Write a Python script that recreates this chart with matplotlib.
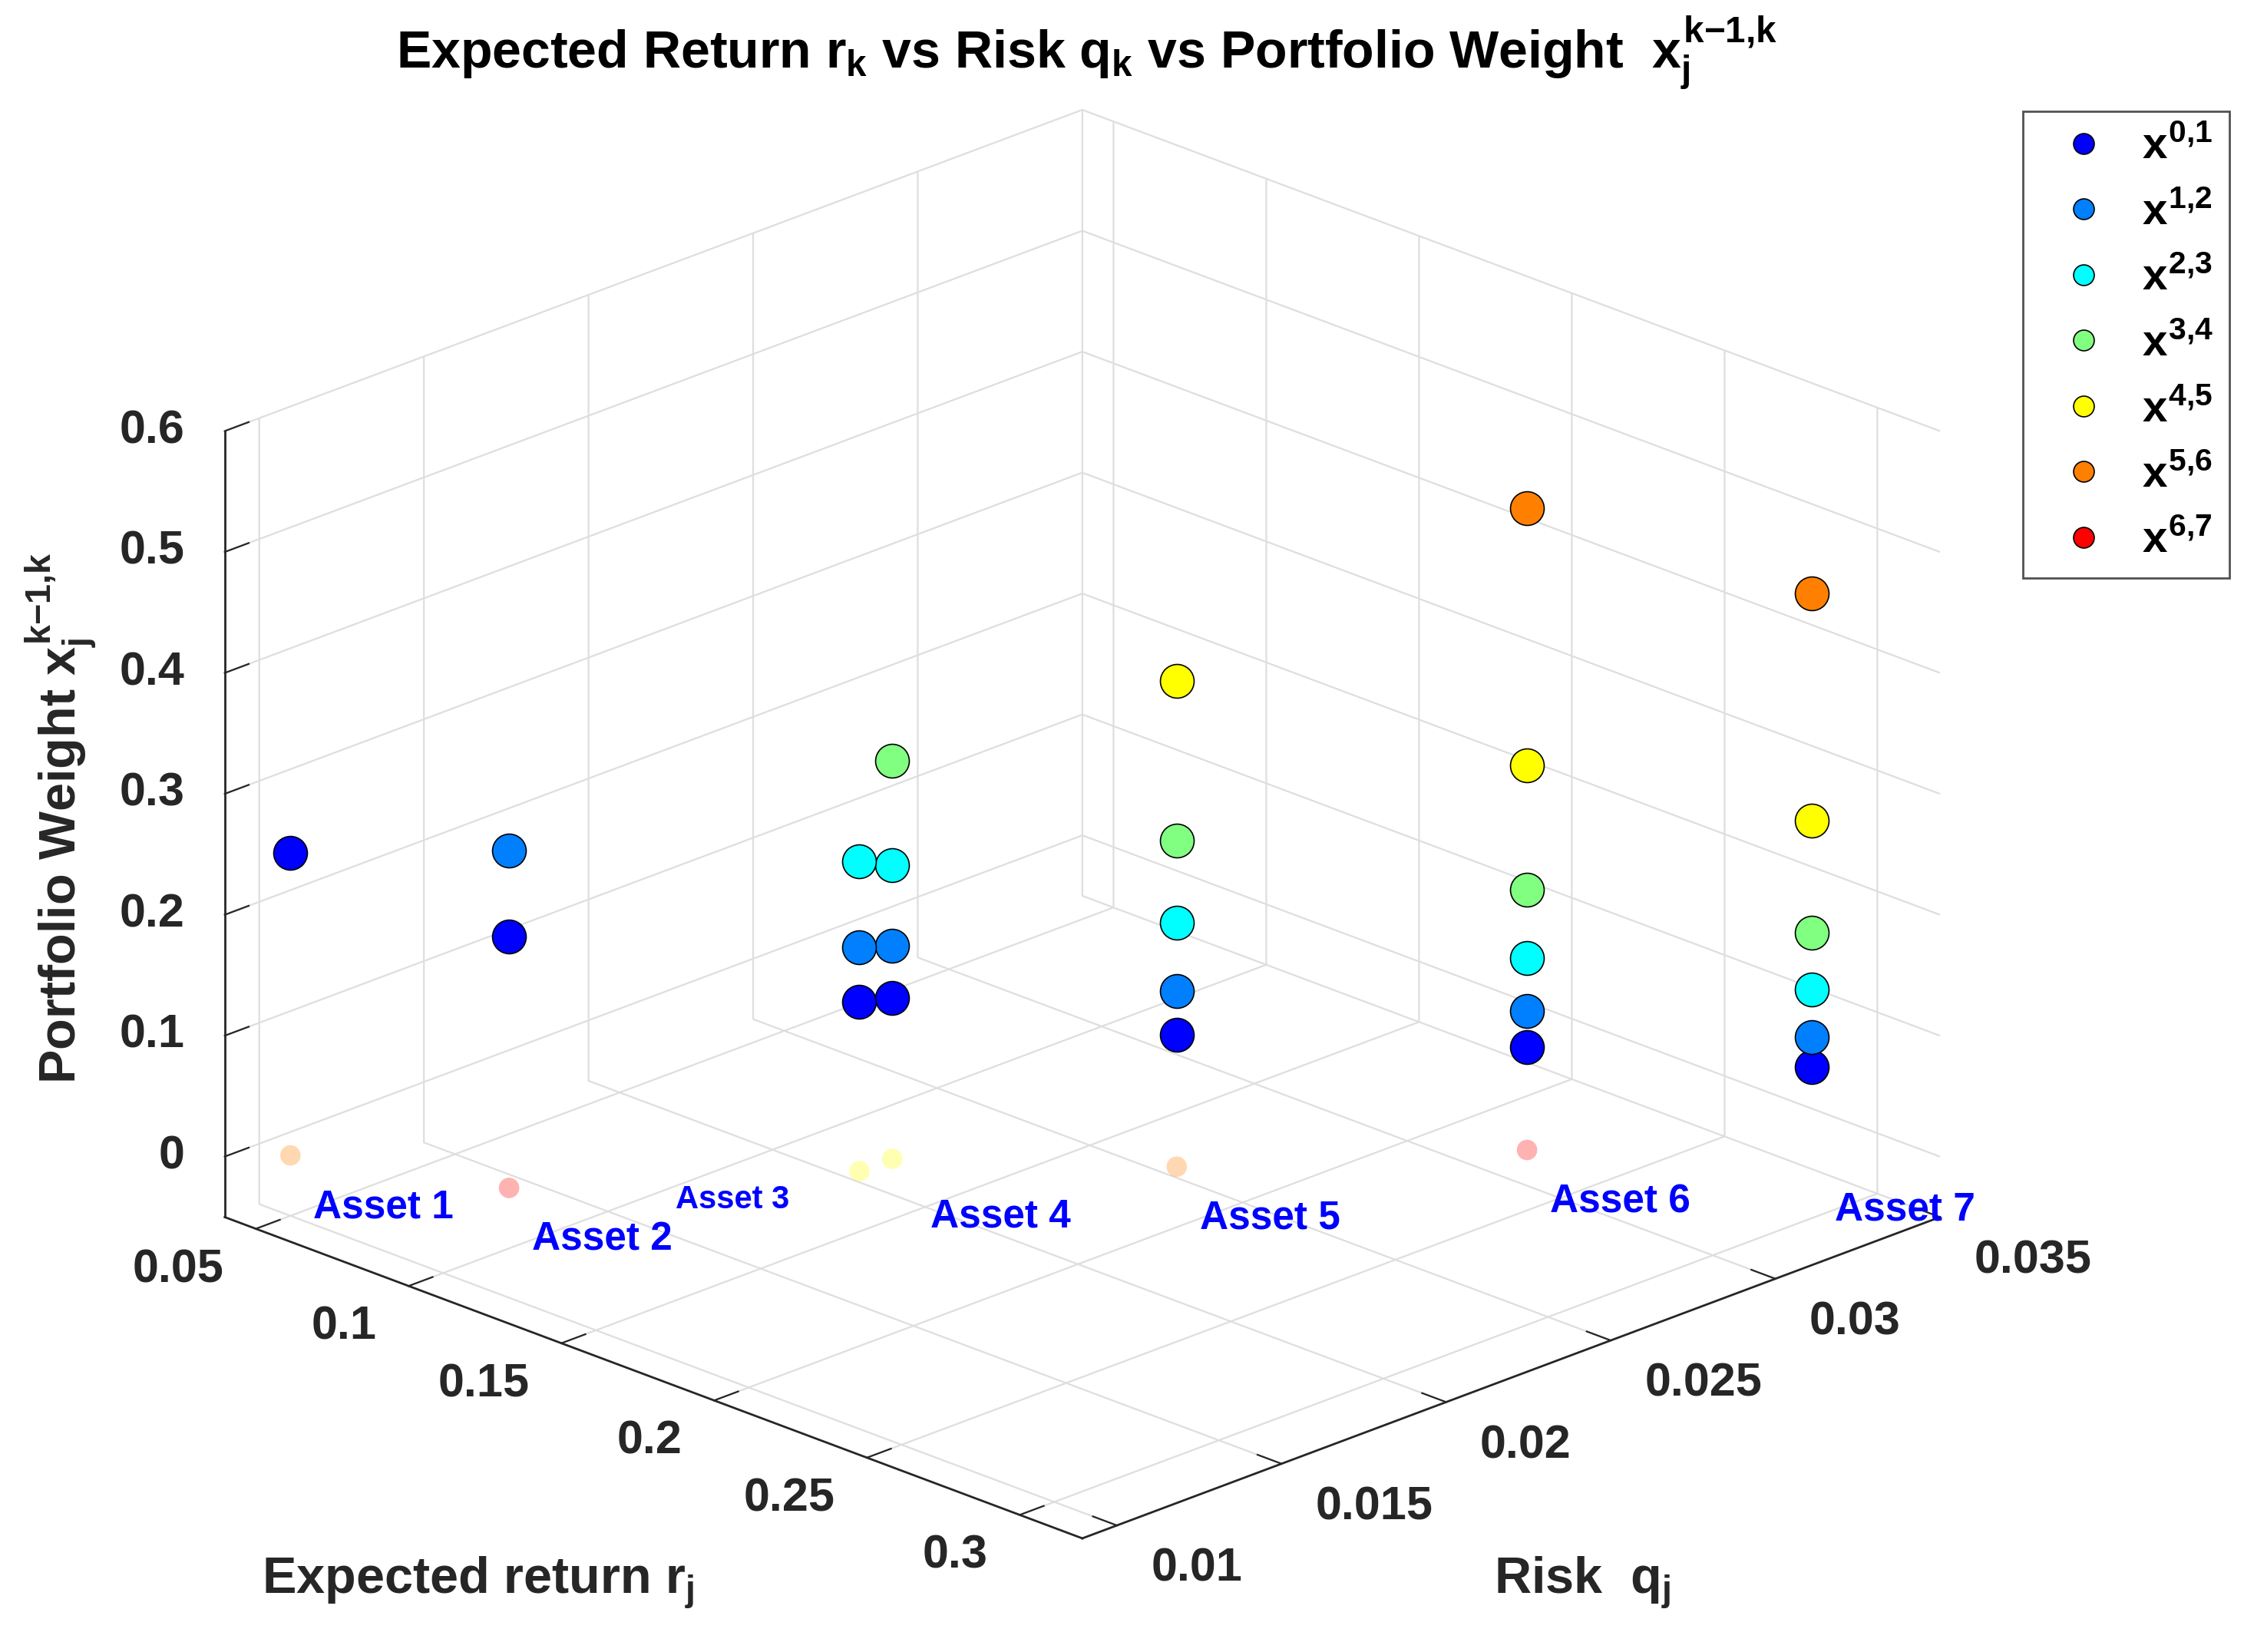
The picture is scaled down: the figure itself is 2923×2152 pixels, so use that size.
import numpy as np
import matplotlib
matplotlib.use('Agg')
import matplotlib.pyplot as plt
from matplotlib.lines import Line2D

plt.rcParams['font.family'] = ['Liberation Sans', 'DejaVu Sans']
plt.rcParams['font.weight'] = 'bold'
plt.rcParams['mathtext.fontset'] = 'custom'
plt.rcParams['mathtext.rm'] = 'Liberation Sans:bold'
plt.rcParams['mathtext.it'] = 'Liberation Sans:bold'
plt.rcParams['mathtext.bf'] = 'Liberation Sans:bold'
plt.rcParams['grid.color'] = '#dedede'
plt.rcParams['grid.linewidth'] = 0.8

# assets: expected return r_j and risk q_j
asset_names = ['Asset 1', 'Asset 2', 'Asset 3', 'Asset 4', 'Asset 5', 'Asset 6', 'Asset 7']
exp_return = np.array([0.05, 0.10, 0.15, 0.15, 0.20, 0.25, 0.30])
risk = np.array([0.010, 0.012, 0.018, 0.019, 0.023, 0.029, 0.033])

# portfolio weights x^{k-1,k} per iteration (0 = asset dropped)
w_01 = np.array([0.250, 0.208, 0.140, 0.133, 0.109, 0.085, 0.075])
w_12 = np.array([0.000, 0.279, 0.185, 0.176, 0.145, 0.115, 0.100])
w_23 = np.array([0.000, 0.000, 0.256, 0.243, 0.202, 0.159, 0.139])
w_34 = np.array([0.000, 0.000, 0.000, 0.329, 0.270, 0.215, 0.186])
w_45 = np.array([0.000, 0.000, 0.000, 0.000, 0.402, 0.318, 0.279])
w_56 = np.array([0.000, 0.000, 0.000, 0.000, 0.000, 0.531, 0.467])
w_67 = np.array([0.000, 0.000, 0.000, 0.000, 0.000, 0.000, 1.000])
weights = [w_01, w_12, w_23, w_34, w_45, w_56, w_67]
iter_tags = ['0{,}1', '1{,}2', '2{,}3', '3{,}4', '4{,}5', '5{,}6', '6{,}7']
iter_colors = ['#0000ff', '#0080ff', '#00ffff', '#80ff80', '#ffff00', '#ff8000', '#ff0000']

# faded zero-weight marker shown for assets 1-6 (iteration colour index)
zero_iter = [5, 6, 4, 4, 5, 6]

# label anchors for the asset names (on the floor of the box)
label_r = [0.05, 0.10, 0.106, 0.155, 0.20, 0.25, 0.30]
label_q = [0.0107, 0.0127, 0.0165, 0.0197, 0.0237, 0.0297, 0.0337]
label_size = [18.5, 18.5, 15, 18.5, 18.5, 18.5, 18.5]

xlim = (0.0398, 0.3205)
ylim = (0.00895, 0.035)
zlim = (-0.05, 0.6)

W, H = 2923, 2152
fig = plt.figure(figsize=(W / 200, H / 200), dpi=200)
ax = fig.add_axes([0.2, 0.2, 1500 / W, 1500 / H], projection='3d')
ax.set_proj_type('ortho')
ax.view_init(elev=22, azim=-45)
ax.set_box_aspect((1, 1, 0.699))
ax.set_xlim(*xlim)
ax.set_ylim(*ylim)
ax.set_zlim(*zlim)
ax.zaxis.set_ticks_position('lower')

for axis in (ax.xaxis, ax.yaxis, ax.zaxis):
    axis.set_pane_color((1, 1, 1, 0))
    axis.line.set_color('#262626')
    axis.line.set_linewidth(1.0)
    axis._axinfo['tick']['inward_factor'] = 0.0
    axis._axinfo['tick']['outward_factor'] = 0.35

ax.set_xticks([0.05, 0.1, 0.15, 0.2, 0.25, 0.3])
ax.set_xticklabels(['0.05', '0.1', '0.15', '0.2', '0.25', '0.3'])
ax.set_yticks([0.01, 0.015, 0.02, 0.025, 0.03, 0.035])
ax.set_yticklabels(['0.01', '0.015', '0.02', '0.025', '0.03', '0.035'])
ax.set_zticks([0, 0.1, 0.2, 0.3, 0.4, 0.5, 0.6])
ax.set_zticklabels(['0', '0.1', '0.2', '0.3', '0.4', '0.5', '0.6'])
ax.tick_params(axis='x', labelsize=22, labelcolor='#262626', color='#262626', pad=9)
ax.tick_params(axis='y', labelsize=22, labelcolor='#262626', color='#262626', pad=10)
ax.tick_params(axis='z', labelsize=22, labelcolor='#262626', color='#262626', pad=2.5)

# zero weights, faded
for i, k in enumerate(zero_iter):
    ax.scatter(exp_return[i], risk[i], 0, s=92, color=iter_colors[k], alpha=0.3,
               edgecolors='none', depthshade=False)

for k, w in enumerate(weights):
    show = (w > 0) & (w <= zlim[1])
    if show.any():
        ax.scatter(exp_return[show], risk[show], w[show], s=250, color=iter_colors[k],
                   edgecolors='black', linewidths=0.6, depthshade=False)

for i, name in enumerate(asset_names):
    ax.text(label_r[i], label_q[i], zlim[0], name, color='blue', fontsize=label_size[i],
            fontweight='bold', ha='left', va='center')

# fit the projected box onto the reference frame
fig.canvas.draw()
M = ax.get_proj()


def to_px(x, y, z):
    v = M @ np.array([x, y, z, 1.0])
    return ax.transData.transform((v[0] / v[3], v[1] / v[3]))


cL = to_px(xlim[0], ylim[0], zlim[0])
cR = to_px(xlim[1], ylim[1], zlim[0])
cF = to_px(xlim[1], ylim[0], zlim[0])
cT = to_px(xlim[0], ylim[1], zlim[1])
tL, tR = np.array([292.7, H - 1585]), np.array([2527, H - 1587])
tF, tT = np.array([1411.7, H - 2004.3]), np.array([1411, H - 142.7])
k = (tR[0] - tL[0]) / (cR[0] - cL[0])
bb = ax.bbox
c = np.array([(bb.x0 + bb.x1) / 2, (bb.y0 + bb.y1) / 2])
cur_mid = np.array([(cL[0] + cR[0]) / 2, (cF[1] + cT[1]) / 2])
tgt_mid = np.array([(tL[0] + tR[0]) / 2, (tF[1] + tT[1]) / 2])
new_c = tgt_mid - k * (cur_mid - c)
S = k * bb.width
ax.set_position([(new_c[0] - S / 2) / W, (new_c[1] - S / 2) / H, S / W, S / H])

for t in ax.xaxis.get_ticklabels():
    t.set_ha('right')
    t.set_va('center')
for t in ax.yaxis.get_ticklabels():
    t.set_ha('left')
    t.set_va('center')
for t in ax.zaxis.get_ticklabels():
    t.set_ha('right')
    t.set_va('center')

fig.text(1416 / W, 1 - 89 / H,
         r'Expected Return $r_k$ vs Risk $q_k$ vs Portfolio Weight  $x_j^{k{-}1{,}k}$',
         ha='center', va='baseline', fontsize=24.5, color='black')
fig.text(623 / W, 1 - 2075 / H, r'Expected return $r_j$', ha='center', va='baseline',
         fontsize=24, color='#262626')
fig.text(2061 / W, 1 - 2075 / H, r'Risk  $q_j$', ha='center', va='baseline',
         fontsize=24, color='#262626')
fig.text(80 / W, 1 - 1066 / H, r'Portfolio Weight $x_j^{k{-}1{,}k}$', rotation=90,
         ha='center', va='center', fontsize=24, color='#262626')

handles = [Line2D([], [], ls='none', marker='o', markersize=9.7, markerfacecolor=col,
                  markeredgecolor='black', markeredgewidth=0.6) for col in iter_colors]
labels = [r'$x^{%s}$' % t for t in iter_tags]
leg = fig.legend(handles, labels, loc='upper right', bbox_to_anchor=(2904 / W, 1 - 145 / H),
                 fontsize=21, frameon=True, fancybox=False, edgecolor='#262626',
                 borderpad=0.35, labelspacing=0.54, handlelength=2.0, handletextpad=0.31,
                 borderaxespad=0)
leg.get_frame().set_linewidth(1.0)

fig.savefig('out.png', dpi=200, facecolor='white')
